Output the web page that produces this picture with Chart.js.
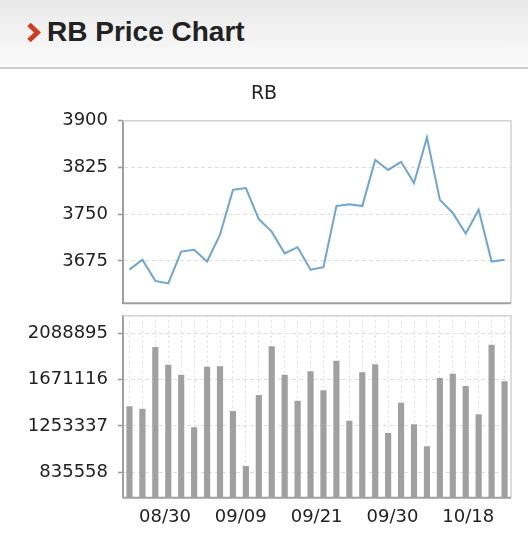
<!DOCTYPE html>
<html>
<head>
<meta charset="utf-8">
<script src="https://cdn.jsdelivr.net/npm/chart.js@4"></script>
<style>
  html, body { margin: 0; padding: 0; background: #fff; width: 528px; height: 558px; overflow: hidden; }
  #header { position: absolute; left: 0; top: 0; width: 528px; height: 67px;
            background: linear-gradient(#e9e9e9, #fbfbfb); border-bottom: 2px solid #cecece; }
  #header svg { position: absolute; left: 25px; top: 22px; }
  #header h1 { position: absolute; left: 47px; top: 16px; margin: 0; font: bold 28px "Liberation Sans", Arial, sans-serif; color: #222; }
  #c1 { position: absolute; left: 0; top: 70px; }
  #c2 { position: absolute; left: 0; top: 290px; }
</style>
</head>
<body>
<div id="header">
  <svg width="20" height="22" viewBox="0 0 20 22"><polyline points="4,2.5 12.5,10.5 4,18.5" fill="none" stroke="#d43a1e" stroke-width="4.8" stroke-linejoin="miter"/></svg>
  <h1>RB Price Chart</h1>
</div>
<canvas id="c1" width="528" height="260"></canvas>
<canvas id="c2" width="528" height="268"></canvas>
<script>
// ---- data ----
const dates = [
  "08/25","08/26","08/27","08/28","08/29","08/30","08/31","09/01","09/02","09/03",
  "09/06","09/07","09/08","09/09","09/10","09/13","09/14","09/15","09/16","09/17",
  "09/21","09/22","09/23","09/24","09/27","09/28","09/29","09/30","10/08","10/11"
];
const prices = [
  3661, 3677, 3643, 3639, 3690, 3693, 3674, 3717, 3789, 3792,
  3742, 3722, 3687, 3697, 3661, 3665, 3763, 3766, 3763, 3837,
  3821, 3834, 3800, 3873, 3773, 3752, 3719, 3757, 3674, 3677
];
const volumes = [
  1427400, 1406500, 1965700, 1805300, 1714600, 1237100, 1787100, 1789900, 1385700, 887300,
  1530700, 1971100, 1714600, 1479000, 1744500, 1572400, 1841500, 1297800, 1735500, 1808000,
  1186300, 1460900, 1264300, 1064900, 1684700, 1723700, 1612200, 1354900, 1986500, 1653900
];
const priceTicks = [3675, 3750, 3825, 3900];
const volumeTicks = [835558, 1253337, 1671116, 2088895];
const dateTicks = ["08/30", "09/09", "09/21", "09/30", "10/18"];

// ---- layout / style constants ----
const FONT = "'DejaVu Sans', Verdana, sans-serif";
const labelStart = 0.1082, labelStep = 0.1954; // fraction of axis width for date labels

const framePlugin = {
  id: 'frame',
  afterDraw(chart) {
    const a = chart.chartArea, ctx = chart.ctx;
    ctx.save();
    ctx.strokeStyle = '#d2d2d2'; ctx.lineWidth = 1.5;
    ctx.beginPath();
    ctx.moveTo(a.left, a.top); ctx.lineTo(a.right, a.top); ctx.lineTo(a.right, a.bottom);
    ctx.stroke();
    ctx.strokeStyle = '#a0a0a0'; ctx.lineWidth = 2;
    ctx.beginPath();
    ctx.moveTo(a.left, a.bottom); ctx.lineTo(a.right, a.bottom);
    ctx.stroke();
    ctx.restore();
  }
};

Chart.defaults.animation = false;
Chart.defaults.font.family = FONT;
Chart.defaults.color = '#222';

const plain = v => String(v);

new Chart(document.getElementById('c1'), {
  type: 'line',
  data: { labels: dates, datasets: [{ data: prices, borderColor: '#6ba6d5', borderWidth: 2, pointRadius: 0, tension: 0, fill: false }] },
  options: {
    responsive: false,
    layout: { padding: { left: 17, right: 17, top: 0, bottom: 26.7 } },
    plugins: {
      legend: { display: false }, tooltip: { enabled: false },
      title: { display: true, text: 'RB', color: '#222', font: { family: FONT, size: 19, weight: 'normal' }, padding: { top: 12.6, bottom: 15.3 } }
    },
    scales: {
      x: { type: 'category', offset: true, display: false },
      y: {
        min: 3607, max: 3900,
        afterBuildTicks: s => { s.ticks = priceTicks.map(v => ({ value: v })); },
        afterFit: s => { s.width = 106; },
        ticks: { font: { size: 18 }, color: '#222', padding: 10, callback: plain },
        grid: { color: '#dedede', lineWidth: 1, tickLength: 5, tickColor: '#999', tickWidth: 1.5, tickBorderDash: [] },
        border: { display: true, color: '#a0a0a0', width: 2, dash: [4, 3] }
      }
    }
  },
  plugins: [framePlugin]
});

new Chart(document.getElementById('c2'), {
  type: 'bar',
  data: { labels: dates, datasets: [{ data: volumes, backgroundColor: '#a0a0a0', barThickness: 5.5, xAxisID: 'x', yAxisID: 'y' }] },
  options: {
    responsive: false,
    layout: { padding: { left: 17, right: 17, top: 25.7, bottom: 0 } },
    plugins: { legend: { display: false }, tooltip: { enabled: false } },
    scales: {
      x: {
        type: 'category', offset: true, position: 'bottom',
        ticks: { display: false },
        grid: { offset: false, color: '#dcdcdc', lineWidth: 1, drawTicks: false },
        border: { display: false, dash: [2, 3] },
        afterFit: s => { s.height = 0; }
      },
      x2: {
        type: 'linear', position: 'bottom', min: 0, max: 1, offset: false,
        afterBuildTicks: s => { s.ticks = dateTicks.map((t, i) => ({ value: labelStart + i * labelStep })); },
        ticks: { font: { size: 18 }, color: '#222', padding: 9, maxRotation: 0, autoSkip: false,
                 callback: (v, i) => dateTicks[i] },
        grid: { display: false, drawTicks: false, offset: false },
        border: { display: false },
        afterFit: s => { s.height = 60.3; }
      },
      y: {
        min: 602700, max: 2252000,
        afterBuildTicks: s => { s.ticks = volumeTicks.map(v => ({ value: v })); },
        afterFit: s => { s.width = 106; },
        ticks: { font: { size: 18 }, color: '#222', padding: 10, callback: plain },
        grid: { color: '#dedede', lineWidth: 1, tickLength: 5, tickColor: '#999', tickWidth: 1.5, tickBorderDash: [] },
        border: { display: true, color: '#a0a0a0', width: 2, dash: [4, 3] }
      }
    }
  },
  plugins: [framePlugin]
});
</script>
</body>
</html>
